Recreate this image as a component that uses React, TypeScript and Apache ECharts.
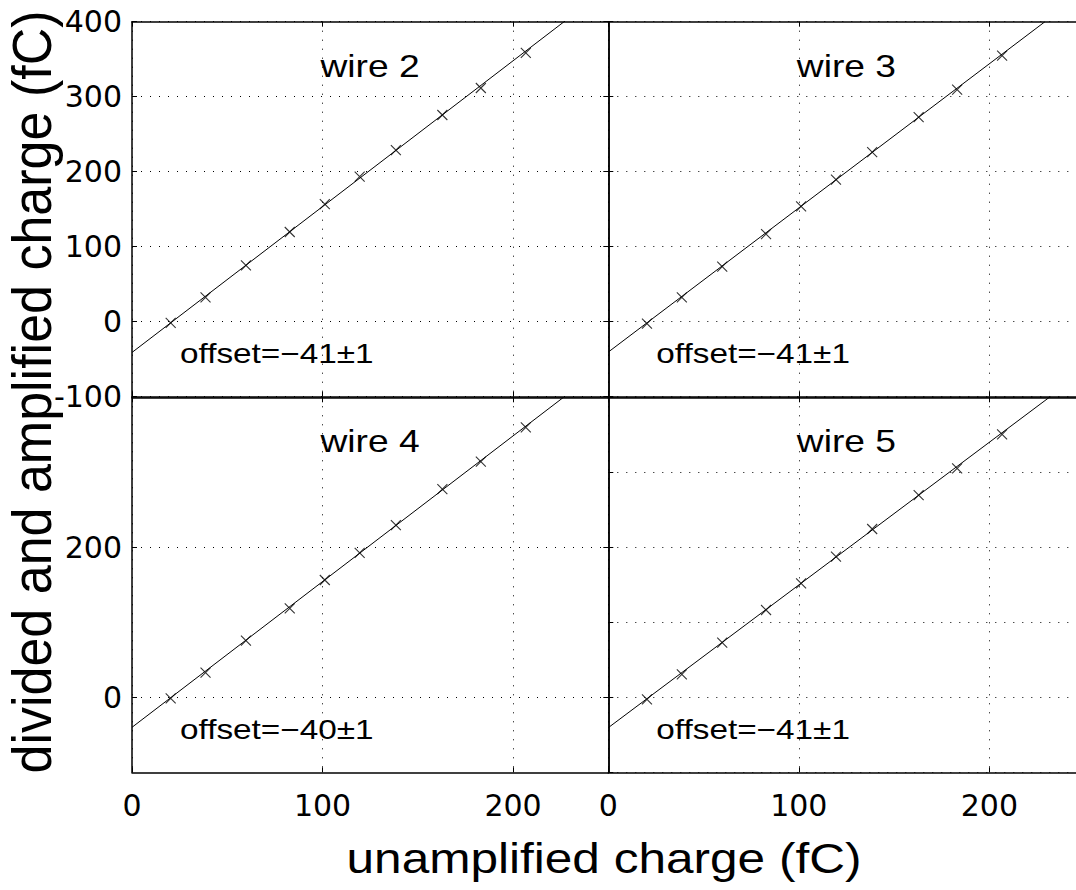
import React, { useEffect, useRef } from 'react';
import * as echarts from 'echarts';

// unamplified charge (fC), common to the four wires
const xCharge = [20.3, 38.6, 59.8, 82.8, 101.2, 119.5, 138.5, 162.9, 183.1, 206.7];
// divided and amplified charge (fC)
const wire2Y = [-1.7, 32.4, 75.1, 119.6, 156.9, 193.3, 228.9, 275.6, 311.6, 358.3];
const wire3Y = [-2.7, 32.4, 73.3, 116.9, 153.8, 189.3, 226.2, 272.9, 309.3, 354.7];
const wire4Y = [-1.3, 32.8, 75.5, 118.7, 156.4, 192.7, 229.7, 277.7, 314.1, 360.0];
const wire5Y = [-2.7, 30.7, 72.8, 116.4, 152.0, 187.5, 224.4, 269.7, 305.3, 350.7];
// fit lines (end points)
const fit2 = [[0, -41], [226.8, 400]];
const fit3 = [[0, -40.5], [229.2, 400]];
const fit4 = [[0, -40], [226.5, 400]];
const fit5 = [[0, -40.5], [231.5, 400]];

const wireNames = ['wire 2', 'wire 3', 'wire 4', 'wire 5'];
const offsetTexts = ['offset=\u221241\u00b11', 'offset=\u221241\u00b11', 'offset=\u221240\u00b11', 'offset=\u221241\u00b11'];

const yTicksBottomLeft = [0, 200];

const xLabel = 'unamplified charge (fC)';
const yLabel = 'divided and amplified charge (fC)';

const TICK_FONT = 'DejaVu Sans';
const TEXT_FONT = 'Liberation Sans';

export default function App() {
  const ref = useRef<HTMLDivElement>(null);
  useEffect(() => {
    const chart = echarts.init(ref.current as HTMLDivElement, null, { renderer: 'svg', width: 1100, height: 890 });
    const ys = [wire2Y, wire3Y, wire4Y, wire5Y];
    const fits = [fit2, fit3, fit4, fit5];
    const lefts = [132, 608.3];
    const tops = [21.7, 397.3];
    const W = 476.3;
    const H = 375;

    const grids: any[] = [];
    const xAxes: any[] = [];
    const yAxes: any[] = [];
    const series: any[] = [];
    const graphics: any[] = [];

    const axisLine = { show: true, onZero: false, lineStyle: { color: '#000', width: 1.5 } };
    const splitLine = { show: true, lineStyle: { color: '#000', width: 1, type: [1, 8] } };
    const tick = { show: true, inside: true, length: 5, lineStyle: { color: '#000', width: 1 } };

    for (let i = 0; i < 4; i++) {
      const col = i % 2;
      const row = Math.floor(i / 2);
      grids.push({ left: lefts[col], top: tops[row], width: W, height: H, containLabel: false });

      const xBase = { type: 'value', gridIndex: i, min: 0, max: 250, interval: 100, axisLine };
      xAxes.push({
        ...xBase, position: 'bottom',
        axisTick: tick,
        axisLabel: {
          show: row === 1, showMaxLabel: false, color: '#000', fontSize: 30, fontFamily: TICK_FONT, margin: 18,
        },
        splitLine,
      });
      xAxes.push({
        ...xBase, position: 'top',
        axisTick: tick,
        axisLabel: { show: false },
        splitLine: { show: false },
      });

      const yBase: any = { type: 'value', gridIndex: i, min: -100, max: 400, interval: 100, axisLine };
      const tickCustom = i === 2 ? { customValues: yTicksBottomLeft } : {};
      yAxes.push({
        ...yBase, position: 'left',
        axisTick: { ...tick, ...tickCustom },
        axisLabel: {
          show: i === 0 || i === 2, color: '#000', fontSize: 30, fontFamily: TICK_FONT, margin: 10,
          ...tickCustom,
        },
        splitLine,
      });
      yAxes.push({
        ...yBase, position: 'right',
        axisTick: { ...tick, ...tickCustom },
        axisLabel: { show: false },
        splitLine: { show: false },
      });

      series.push({
        type: 'line', xAxisIndex: 2 * i, yAxisIndex: 2 * i,
        data: fits[i], symbol: 'none', silent: true,
        lineStyle: { color: '#000', width: 1 },
      });
      series.push({
        type: 'scatter', xAxisIndex: 2 * i, yAxisIndex: 2 * i,
        data: xCharge.map((x, k) => [x, ys[i][k]]),
        symbol: 'path://M0,0L10,10M10,0L0,10', symbolSize: 10,
        itemStyle: { color: 'rgba(0,0,0,0)', borderColor: '#000', borderWidth: 1.1 },
      });

      graphics.push({
        type: 'text', x: lefts[col] + 188.5, y: tops[row] + 44, scaleX: 1.2,
        style: {
          text: wireNames[i], fontSize: 31, fontFamily: TEXT_FONT, fill: '#000',
          align: 'left', verticalAlign: 'middle', textAlign: 'left', textVerticalAlign: 'middle',
        },
      });
      graphics.push({
        type: 'text', x: lefts[col] + 48, y: tops[row] + 332, scaleX: 1.19,
        style: {
          text: offsetTexts[i], fontSize: 28, fontFamily: TEXT_FONT, fill: '#000',
          align: 'left', verticalAlign: 'middle', textAlign: 'left', textVerticalAlign: 'middle',
        },
      });
    }

    graphics.push({
      type: 'text', x: 604, y: 858, scaleX: 1.18,
      style: {
        text: xLabel, fontSize: 42, fontFamily: TEXT_FONT, fill: '#000',
        align: 'center', verticalAlign: 'middle', textAlign: 'center', textVerticalAlign: 'middle',
      },
    });
    graphics.push({
      type: 'text', x: 31, y: 392, rotation: Math.PI / 2, scaleY: 1.06,
      style: {
        text: yLabel, fontSize: 52, fontFamily: TEXT_FONT, fill: '#000',
        align: 'center', verticalAlign: 'middle', textAlign: 'center', textVerticalAlign: 'middle',
      },
    });

    chart.setOption({
      animation: false,
      backgroundColor: '#fff',
      grid: grids,
      xAxis: xAxes,
      yAxis: yAxes,
      series,
      graphic: graphics,
    });
    return () => chart.dispose();
  }, []);

  return (
    <div style={{ position: 'fixed', left: 0, top: 0, width: 1076, height: 890, overflow: 'hidden', background: '#fff' }}>
      <div ref={ref} style={{ width: 1100, height: 890 }} />
    </div>
  );
}
